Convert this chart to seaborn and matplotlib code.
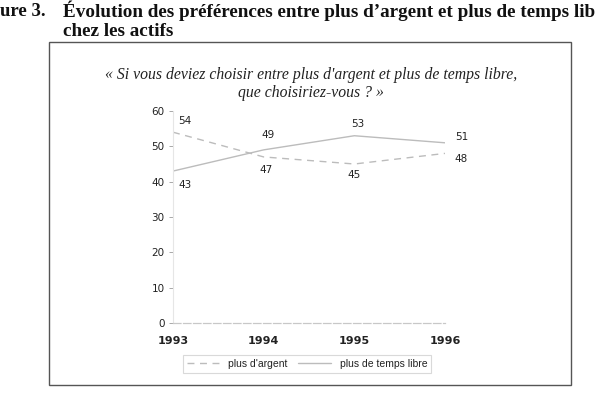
import matplotlib
matplotlib.use("Agg")
import matplotlib.pyplot as plt
import seaborn as sns
import pandas as pd
from matplotlib.patches import Rectangle
from matplotlib.lines import Line2D

years = [1993, 1994, 1995, 1996]
argent = [54, 47, 45, 48]
temps_libre = [43, 49, 53, 51]
series_names = ["plus d'argent", "plus de temps libre"]
y_ticks = [0, 10, 20, 30, 40, 50, 60]

df = pd.DataFrame({
    "annee": years * 2,
    "valeur": argent + temps_libre,
    "serie": [series_names[0]] * 4 + [series_names[1]] * 4,
})

sns.set_theme(style="white")
plt.rcParams["font.family"] = ["DejaVu Sans"]

W, H = 596, 396
fig = plt.figure(figsize=(W / 100, H / 100), dpi=100)

def fx(px):
    return px / W

def fy(py):
    return 1 - py / H

ax = fig.add_axes([fx(173), fy(323), fx(445) - fx(173), fy(111) - fy(323)])

line_col = "#bcbcbc"
sns.lineplot(data=df, x="annee", y="valeur", hue="serie", style="serie",
             palette={series_names[0]: line_col, series_names[1]: line_col},
             dashes={series_names[0]: (5, 4), series_names[1]: ""},
             linewidth=1.0, ax=ax, legend=False)

ax.set_xlim(1993, 1996)
ax.set_ylim(0, 60)
ax.set_xticks(years)
ax.set_xticklabels([str(y) for y in years])
ax.set_yticks(y_ticks)
ax.set_xlabel("")
ax.set_ylabel("")
ax.set_facecolor("none")
for s in ["top", "right"]:
    ax.spines[s].set_visible(False)
ax.spines["left"].set_color("#e6e6e6")
ax.spines["left"].set_linewidth(0.8)
ax.spines["bottom"].set_color("#c8c8c8")
ax.spines["bottom"].set_linewidth(0.9)
ax.spines["bottom"].set_linestyle((0, (6, 2)))
ax.tick_params(axis="y", length=3, width=0.6, color="#9a9a9a", pad=3,
               labelsize=7.5, labelcolor="#222222", left=True)
ax.tick_params(axis="x", length=0, pad=9, labelsize=8, labelcolor="#222222")
for t in ax.get_xticklabels():
    t.set_fontweight("bold")

lab_kw = dict(textcoords="offset pixels", fontsize=7.5, color="#222222",
              ha="center", va="center")
arg_off = [(12, 11), (2, -13), (0, -11), (16, -6)]
lib_off = [(12, -14), (4, 15), (3, 12), (17, 6)]
for x, v, o in zip(years, argent, arg_off):
    ax.annotate(str(v), (x, v), xytext=o, **lab_kw)
for x, v, o in zip(years, temps_libre, lib_off):
    ax.annotate(str(v), (x, v), xytext=o, **lab_kw)

# Legend
leg_handles = [
    Line2D([], [], color=line_col, lw=1.0, ls=(0, (5, 4))),
    Line2D([], [], color=line_col, lw=1.0, ls="-"),
]
leg = fig.legend(leg_handles, series_names, loc="center",
                 bbox_to_anchor=(fx(307), fy(364)), ncol=2, frameon=True,
                 fontsize=7.5, handlelength=3.2, handletextpad=0.8,
                 columnspacing=1.0, borderpad=0.35, fancybox=False)
leg.get_frame().set_edgecolor("#d0d0d0")
leg.get_frame().set_linewidth(0.8)
for t in leg.get_texts():
    t.set_color("#222222")
    t.set_family("Liberation Sans")

# Outer box
fig.patches.append(Rectangle((fx(49), fy(385)), fx(571) - fx(49), fy(42) - fy(385),
                             transform=fig.transFigure, fill=False,
                             edgecolor="#555555", linewidth=1.0))

# Titles
serif = "Liberation Serif"
fig.text(fx(0), fy(11), "ure 3.", fontsize=13.5, fontweight="bold",
         family=serif, ha="left", va="center", color="#111111")
fig.text(fx(63), fy(11),
         "Évolution des préférences entre plus d\u2019argent et plus de temps lib",
         fontsize=13.8, fontweight="bold", family=serif, ha="left", va="center",
         color="#111111")
fig.text(fx(63), fy(31), "chez les actifs", fontsize=13.8, fontweight="bold",
         family=serif, ha="left", va="center", color="#111111")

fig.text(fx(311), fy(75),
         "« Si vous deviez choisir entre plus d'argent et plus de temps libre,",
         fontsize=11.3, style="italic", family=serif, ha="center", va="center",
         color="#222222")
fig.text(fx(311), fy(93), "que choisiriez-vous ? »",
         fontsize=11.3, style="italic", family=serif, ha="center", va="center",
         color="#222222")

fig.savefig("out.png", dpi=100)
